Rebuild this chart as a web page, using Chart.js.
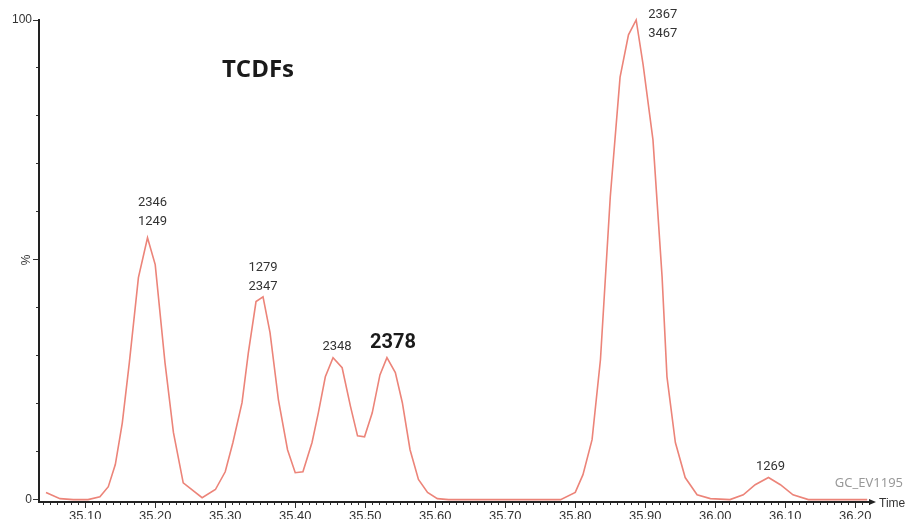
<!DOCTYPE html>
<html>
<head>
<meta charset="utf-8">
<title>TCDFs</title>
<script src="https://cdn.jsdelivr.net/npm/chart.js@4.4.1/dist/chart.umd.min.js"></script>
<style>
  html, body { margin: 0; padding: 0; background: #fff; }
  canvas { display: block; }
</style>
</head>
<body>
<canvas id="chart" width="905" height="519"></canvas>
<script>
// ── Trace (time in min, intensity in %) ─────────────────────────────────────
const times = [
  35.044, 35.064, 35.083, 35.104, 35.121, 35.133, 35.143, 35.153, 35.163, 35.176,
  35.189, 35.200, 35.214, 35.226, 35.240, 35.267, 35.286, 35.300, 35.311, 35.324,
  35.333, 35.344, 35.354, 35.364, 35.376, 35.389, 35.400, 35.411, 35.424, 35.433,
  35.443, 35.454, 35.467, 35.479, 35.489, 35.499, 35.510, 35.521, 35.531, 35.543,
  35.553, 35.564, 35.576, 35.589, 35.603, 35.619, 35.779, 35.800, 35.811, 35.824,
  35.836, 35.850, 35.864, 35.876, 35.887, 35.897, 35.911, 35.924, 35.931, 35.943,
  35.957, 35.974, 35.993, 36.021, 36.040, 36.057, 36.076, 36.093, 36.111, 36.133,
  36.217
];
const intensity = [
  1.5, 0.2, 0, 0, 0.6, 2.7, 7.3, 16.0, 28.5, 46.3,
  54.6, 49.0, 28.5, 14.0, 3.5, 0.4, 2.1, 5.8, 11.9, 20.2,
  30.6, 41.3, 42.3, 34.8, 20.8, 10.4, 5.6, 5.8, 11.9, 18.1,
  25.6, 29.6, 27.5, 19.4, 13.3, 13.1, 18.1, 26.0, 29.6, 26.5,
  20.2, 10.4, 4.2, 1.5, 0.2, 0, 0, 1.5, 5.2, 12.5,
  29.2, 63.1, 88.1, 96.9, 100, 90.6, 75.0, 46.5, 25.6, 11.9,
  4.6, 1.0, 0.2, 0, 1.0, 3.1, 4.6, 3.1, 1.0, 0,
  0
];

// peaks (index into the trace) and their congener labels
const peakIndex = [10, 22, 31, 38, 54, 66];
const peakLabels = [['2346', '1249'], ['1279', '2347'], ['2348'], ['2378'], ['2367', '3467'], ['1269']];

// axis ticks
const yMajorTicks = [0, 50, 100];
const yMinorTicks = [0, 10, 20, 30, 40, 50, 60, 70, 80, 90, 100];
const yTickLabels = ['0', '', '100'];   // the "%" at 50 is drawn rotated

const xMin = 35.034, xMax = 36.221;
const yMin = -0.5, yMax = 100;

const LINE = '#ec8479';
const AXIS = '#222';
const TEXT = '#333';
const FONT = 'Roboto, "Liberation Sans", sans-serif';
const AXFONT = '"Liberation Sans", Arial, sans-serif';

const fixedTicks = list => s => { s.ticks = list.map(v => ({ value: v })); };

// ── Label / decoration plugin ────────────────────────────────────────────────
const labelPos = [
  { dx: 5, dy: -16 },
  { dx: 0, dy: -10 },
  { dx: 4, dy: -11 },
  { dx: 6, dy: -15, bold: true },
  { dx: 12, dy: 14, align: 'left' },
  { dx: 2, dy: -11 },
];

const decorations = {
  id: 'decorations',
  afterDatasetsDraw(chart) {
    const { ctx, chartArea, scales: { x, y } } = chart;
    ctx.save();
    ctx.fillStyle = TEXT;
    ctx.textBaseline = 'middle';

    peakIndex.forEach((idx, i) => {
      const px = x.getPixelForValue(times[idx]);
      const py = y.getPixelForValue(intensity[idx]);
      const p = labelPos[i];
      ctx.font = p.bold ? `bold 20px ${FONT}` : `13px ${FONT}`;
      ctx.fillStyle = p.bold ? '#1a1a1a' : TEXT;
      ctx.textAlign = p.align || 'center';
      const lines = peakLabels[i];
      lines.forEach((txt, j) => {
        const off = (lines.length - 1 - j) * 19;
        ctx.fillText(txt, px + p.dx, py + p.dy - off);
      });
    });

    // title
    ctx.font = `bold 24px "Open Sans", "Noto Sans", sans-serif`;
    ctx.textAlign = 'center';
    ctx.fillStyle = '#1a1a1a';
    ctx.fillText('TCDFs', 258, 70);

    // sample id
    ctx.font = `13px "Noto Sans", sans-serif`;
    ctx.textAlign = 'right';
    ctx.fillStyle = '#999';
    ctx.fillText('GC_EV1195', 903, 483);

    // rotated % on the y axis
    ctx.save();
    ctx.translate(27, y.getPixelForValue(50));
    ctx.rotate(-Math.PI / 2);
    ctx.font = `12px ${AXFONT}`;
    ctx.textAlign = 'center';
    ctx.fillStyle = TEXT;
    ctx.fillText('%', 0, 0);
    ctx.restore();

    // arrow head and "Time"
    const ax = chartArea.right, ay = chartArea.bottom;
    ctx.fillStyle = AXIS;
    ctx.beginPath();
    ctx.moveTo(ax - 1, ay - 3);
    ctx.lineTo(ax + 6, ay);
    ctx.lineTo(ax - 1, ay + 3);
    ctx.closePath();
    ctx.fill();
    ctx.font = `12px ${AXFONT}`;
    ctx.textAlign = 'left';
    ctx.fillStyle = TEXT;
    ctx.fillText('Time', 879, 504);
    ctx.restore();
  }
};

// ── Chart ────────────────────────────────────────────────────────────────────
new Chart(document.getElementById('chart'), {
  type: 'line',
  data: {
    datasets: [{
      data: times.map((t, i) => ({ x: t, y: intensity[i] })),
      borderColor: LINE,
      borderWidth: 1.6,
      pointRadius: 0,
      tension: 0,
      fill: false,
      clip: false,
    }]
  },
  options: {
    responsive: false,
    animation: false,
    layout: { padding: { top: 20, right: 35, left: 0, bottom: 0 } },
    plugins: { legend: { display: false }, tooltip: { enabled: false } },
    scales: {
      xMinor: {
        type: 'linear', position: 'bottom', weight: 0, min: xMin, max: xMax,
        border: { display: false },
        grid: { drawOnChartArea: false, tickLength: 3, tickColor: TEXT, tickWidth: 1 },
        ticks: { display: false, stepSize: 0.01, autoSkip: false, includeBounds: false },
        afterFit: s => { s.height = 0; },
      },
      x: {
        type: 'linear', position: 'bottom', weight: 1, min: xMin, max: xMax,
        border: { color: AXIS, width: 2 },
        grid: { drawOnChartArea: false, tickLength: 6, tickColor: TEXT, tickWidth: 1 },
        ticks: {
          stepSize: 0.1, autoSkip: false, includeBounds: false, maxRotation: 0,
          padding: 1, color: TEXT, font: { family: AXFONT, size: 13 },
          callback: v => v.toFixed(2),
        },
        afterFit: s => { s.height = 17; },
      },
      yMinor: {
        type: 'linear', position: 'left', weight: 0, min: yMin, max: yMax,
        border: { display: false },
        grid: { drawOnChartArea: false, tickLength: 3, tickColor: TEXT, tickWidth: 1 },
        ticks: { display: false },
        afterBuildTicks: fixedTicks(yMinorTicks),
        afterFit: s => { s.width = 0; },
      },
      y: {
        type: 'linear', position: 'left', weight: 1, min: yMin, max: yMax,
        border: { color: AXIS, width: 2 },
        grid: { drawOnChartArea: false, tickLength: 6, tickColor: TEXT, tickWidth: 1 },
        ticks: {
          padding: 1, color: TEXT, font: { family: AXFONT, size: 12 },
          callback: (v, i) => yTickLabels[i],
        },
        afterBuildTicks: fixedTicks(yMajorTicks),
        afterFit: s => { s.width = 39; },
      },
    }
  },
  plugins: [decorations]
});
</script>
</body>
</html>
